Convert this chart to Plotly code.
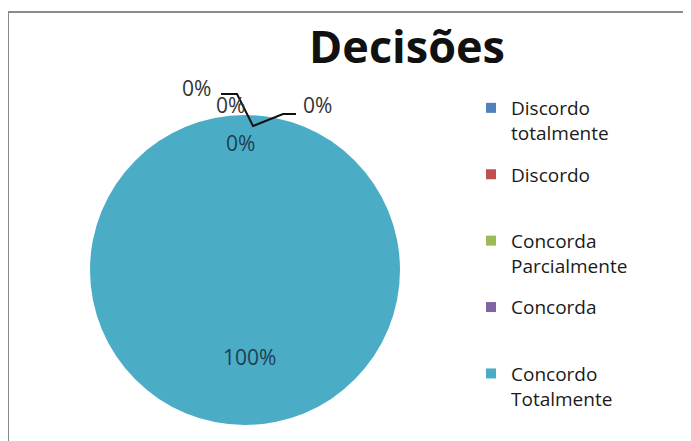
import plotly.graph_objects as go

title = "Decisões"
categories = ["Discordo<br>totalmente", "Discordo", "Concorda<br>Parcialmente", "Concorda", "Concordo<br>Totalmente"]
values = [0, 0, 0, 0, 100]
colors = ["#4F81BD", "#C0504D", "#9BBB59", "#8064A2", "#4BACC6"]

total = sum(values)
pct_labels = [f"{round(v * 100 / total)}%" for v in values]

# the page body adds an 8px margin; work in page pixels and shift
OFF = 8
W, H = 691 - OFF, 441 - OFF
FONT = "Open Sans"

def fx(px):
    return (px - OFF) / W

def fy(py):
    return 1 - (py - OFF) / H

fig = go.Figure()
cx, cy, r = 245, 270, 155
fig.add_trace(go.Pie(
    labels=[c.replace("<br>", " ") for c in categories],
    values=values,
    marker=dict(colors=colors, line=dict(width=0)),
    textinfo="none",
    sort=False,
    direction="clockwise",
    rotation=0,
    showlegend=False,
    hoverinfo="label+percent",
    domain=dict(x=[fx(cx - r), fx(cx + r)], y=[fy(cy + r), fy(cy - r)]),
))

# legend entries
for i, (c, col) in enumerate(zip(categories, colors)):
    name = c if "<br>" in c else c + "<br> "
    fig.add_trace(go.Scatter(
        x=[None], y=[None], mode="markers", name=name,
        marker=dict(symbol="square", size=10, color=col),
        legendgroup=f"g{i}", showlegend=True, hoverinfo="skip",
    ))

# percentage labels (positions for the label layout)
label_pos = [(196, 88), (230, 105), (317, 105), (240, 143), (249, 357)]
label_colors = ["#333333", "#333333", "#333333", "#1d3f52", "#1d3f52"]
annotations = []
for txt, (px, py), lc in zip(pct_labels, label_pos, label_colors):
    annotations.append(dict(
        x=fx(px), y=fy(py), xref="paper", yref="paper", text=txt,
        showarrow=False, font=dict(family=FONT, size=21, color=lc),
        xanchor="center", yanchor="middle",
    ))

def P(px, py):
    return f"{fx(px)},{fy(py)}"

shapes = [
    # chart border
    dict(type="rect", xref="paper", yref="paper", x0=fx(8), x1=fx(688), y0=fy(445), y1=fy(12),
         line=dict(color="#8a8a8a", width=2), fillcolor="rgba(0,0,0,0)", layer="below"),
    # leader lines
    dict(type="path", xref="paper", yref="paper",
         path=f"M {P(221, 94)} L {P(237, 94)} L {P(253, 126)} L {P(283, 114)} L {P(296, 114)}",
         line=dict(color="#111111", width=2)),
]

fig.update_layout(
    width=W, height=H,
    margin=dict(l=0, r=0, t=0, b=0),
    paper_bgcolor="white", plot_bgcolor="white",
    title=dict(text=f"<b>{title}</b>", x=fx(407), xanchor="center", y=fy(47), yanchor="middle",
               font=dict(family=FONT, size=45, color="#111111")),
    xaxis=dict(visible=False), yaxis=dict(visible=False),
    legend=dict(x=fx(471), y=fy(89), xanchor="left", yanchor="top",
                font=dict(family=FONT, size=19, color="#1a1a1a"),
                tracegroupgap=14, valign="top", bgcolor="rgba(0,0,0,0)",
                itemwidth=30),
    annotations=annotations,
    shapes=shapes,
)

fig.write_html("out.html")
